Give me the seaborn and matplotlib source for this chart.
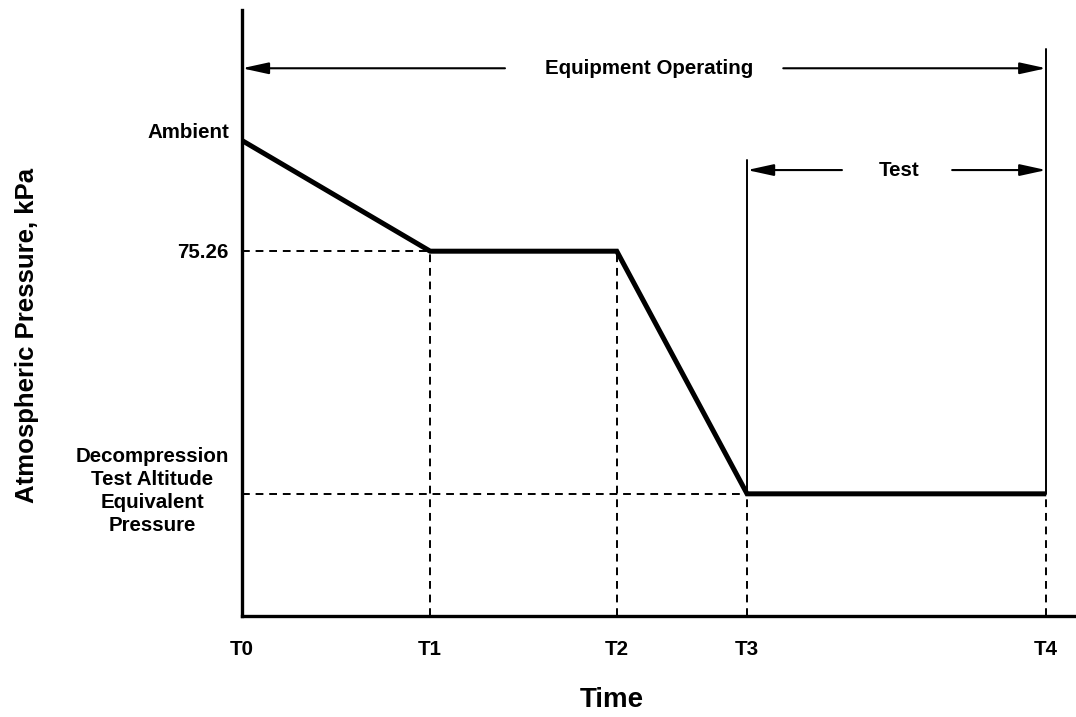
import matplotlib
matplotlib.use("Agg")
import matplotlib.pyplot as plt
import seaborn as sns
import pandas as pd

# schematic time points (arbitrary units) and pressure levels (chart units)
time_labels = ["T0", "T1", "T2", "T3", "T4"]
time_values = [0.0, 2.34, 4.66, 6.28, 10.0]
pressure_profile = [98.1, 75.26, 75.26, 25.2, 25.2]
ambient = 98.1
p_7526 = 75.26
decomp = 25.2

sns.set_style("white")
plt.rcParams["font.family"] = ["Liberation Sans", "DejaVu Sans"]
plt.rcParams["text.color"] = "black"

fig = plt.figure(figsize=(10.76, 7.17), dpi=100)
ax = fig.add_axes([0.2249, 0.1409, 0.7751, 0.845])

df = pd.DataFrame({"time": time_values, "pressure": pressure_profile})
sns.lineplot(data=df, x="time", y="pressure", ax=ax, color="black",
             linewidth=3.6, sort=False, estimator=None,
             solid_capstyle="butt", solid_joinstyle="miter")

ax.set_xlim(0, 10.37)
ax.set_ylim(0, 125)

# dashed guides
dash = dict(color="black", linewidth=1.4, linestyle=(0, (4, 3)))
ax.plot([0, time_values[1]], [p_7526, p_7526], **dash)
ax.plot([0, time_values[3]], [decomp, decomp], **dash)
ax.plot([time_values[1]] * 2, [0, p_7526], **dash)
ax.plot([time_values[2]] * 2, [0, p_7526], **dash)
ax.plot([time_values[3]] * 2, [0, decomp], **dash)
ax.plot([time_values[4]] * 2, [0, decomp], **dash)

# thin vertical markers
ax.plot([time_values[4]] * 2, [decomp, 117], color="black", linewidth=1.4)
ax.plot([time_values[3]] * 2, [decomp, 94], color="black", linewidth=1.4)

# span arrows
arr = dict(arrowstyle="-|>,head_length=1.6,head_width=0.35", color="black",
           linewidth=1.5, shrinkA=0, shrinkB=0)
y_eq = 113
ax.annotate("", xy=(0, y_eq), xytext=(3.27, y_eq), arrowprops=arr)
ax.annotate("", xy=(time_values[4], y_eq), xytext=(6.73, y_eq), arrowprops=arr)
ax.text(5.06, y_eq, "Equipment Operating", ha="center", va="center",
        fontsize=14.8, fontweight="bold")
y_test = 92
ax.annotate("", xy=(time_values[3], y_test), xytext=(7.46, y_test), arrowprops=arr)
ax.annotate("", xy=(time_values[4], y_test), xytext=(8.83, y_test), arrowprops=arr)
ax.text(8.17, y_test, "Test", ha="center", va="center",
        fontsize=14.8, fontweight="bold")

# axes styling
for s in ["top", "right"]:
    ax.spines[s].set_visible(False)
for s in ["left", "bottom"]:
    ax.spines[s].set_linewidth(2.4)
    ax.spines[s].set_color("black")

ax.set_xticks(time_values)
ax.set_xticklabels(time_labels, fontsize=14.8, fontweight="bold", color="black")
ax.tick_params(axis="x", length=0, pad=17)
ax.set_yticks([])
ax.set_xlabel("")
ax.set_ylabel("")

# axis titles
fig.text(612 / 1076, 1 - 700 / 717, "Time", ha="center", va="center",
         fontsize=20, fontweight="bold")
fig.text(27 / 1076, 1 - 335 / 717, "Atmospheric Pressure, kPa", rotation=90,
         ha="center", va="center", fontsize=18.5, fontweight="bold")

# y-axis level labels
fig.text(229 / 1076, 1 - 133 / 717, "Ambient", ha="right", va="center",
         fontsize=14.8, fontweight="bold")
fig.text(229 / 1076, 1 - 253 / 717, "75.26", ha="right", va="center",
         fontsize=14.8, fontweight="bold")
fig.text(152 / 1076, 1 - 491 / 717,
         "Decompression\nTest Altitude\nEquivalent\nPressure",
         ha="center", va="center", fontsize=14.8, fontweight="bold",
         linespacing=1.25, multialignment="center")

fig.savefig("out.png", dpi=100)
